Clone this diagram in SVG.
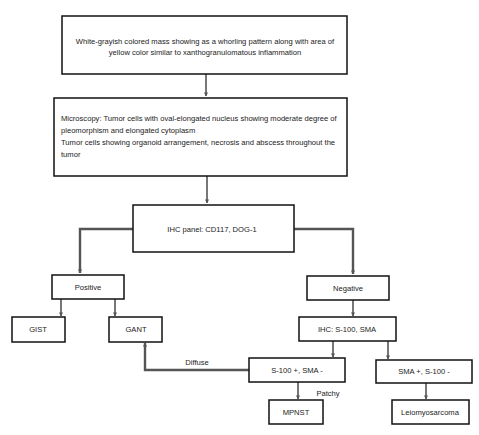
<svg xmlns="http://www.w3.org/2000/svg" width="479" height="435" viewBox="0 0 479 435">
<style>
.box{fill:#fff;stroke:#111;stroke-width:1.5}
.t{font-family:"Liberation Sans",Arial,sans-serif;font-size:7.6px;fill:#222}
.c{text-anchor:middle}
.ln{fill:none;stroke:#555;stroke-width:1.6}
.thick{stroke-width:2.4}
</style>
<defs>
<marker id="ah" viewBox="0 0 10 10" refX="9" refY="5" markerWidth="4" markerHeight="4" orient="auto" markerUnits="userSpaceOnUse">
<path d="M0,0 L10,5 L0,10 z" fill="#555"/>
</marker>
</defs>
<rect width="479" height="435" fill="#fff"/>
<g id="connectors">
<path class="ln" d="M206,74 V96" marker-end="url(#ah)"/>
<path class="ln" d="M207,176 V203" marker-end="url(#ah)"/>
<path class="ln thick" d="M133,229 H80 V273" marker-end="url(#ah)"/>
<path class="ln thick" d="M294,229 H353 V274" marker-end="url(#ah)"/>
<path class="ln" d="M61,299 V316" marker-end="url(#ah)"/>
<path class="ln" d="M115,299 V316" marker-end="url(#ah)"/>
<path class="ln" d="M353,300 V316" marker-end="url(#ah)"/>
<path class="ln" d="M333,341 V357" marker-end="url(#ah)"/>
<path class="ln" d="M388,341 V359" marker-end="url(#ah)"/>
<path class="ln thick" d="M249,370 H145 V343" marker-end="url(#ah)"/>
<path class="ln" d="M298,382 V399" marker-end="url(#ah)"/>
<path class="ln" d="M426,383 V399" marker-end="url(#ah)"/>
<text class="t c" x="197" y="365">Diffuse</text>
<text class="t c" x="328" y="396">Patchy</text>
</g>
<g id="n1">
<rect class="box" x="62" y="16" width="285" height="58"/>
<text class="t c" x="205" y="44">White-grayish colored mass showing as a whorling pattern along with area of</text>
<text class="t c" x="205" y="55">yellow color similar to xanthogranulomatous inflammation</text>
</g>
<g id="n2">
<rect class="box" x="54" y="98" width="293" height="78"/>
<text class="t" x="61" y="121">Microscopy: Tumor cells with oval-elongated nucleus showing moderate degree of</text>
<text class="t" x="61" y="133">pleomorphism and elongated cytoplasm</text>
<text class="t" x="61" y="145">Tumor cells showing organoid arrangement, necrosis and abscess throughout the</text>
<text class="t" x="61" y="157">tumor</text>
</g>
<g id="n3">
<rect class="box" x="133" y="205" width="161" height="47"/>
<text class="t c" x="212" y="232">IHC panel: CD117, DOG-1</text>
</g>
<g id="n4">
<rect class="box" x="52" y="275" width="72" height="24"/>
<text class="t c" x="88" y="290">Positive</text>
</g>
<g id="n5">
<rect class="box" x="307" y="276" width="82" height="24"/>
<text class="t c" x="348" y="291">Negative</text>
</g>
<g id="n6">
<rect class="box" x="12" y="317" width="53" height="25"/>
<text class="t c" x="38" y="332">GIST</text>
</g>
<g id="n7">
<rect class="box" x="109" y="317" width="53" height="25"/>
<text class="t c" x="136" y="332">GANT</text>
</g>
<g id="n8">
<rect class="box" x="299" y="317" width="97" height="24"/>
<text class="t c" x="347" y="332">IHC:  S-100, SMA</text>
</g>
<g id="n9">
<rect class="box" x="249" y="358" width="96" height="24"/>
<text class="t c" x="297" y="373">S-100 +, SMA -</text>
</g>
<g id="n10">
<rect class="box" x="376" y="360" width="96" height="23"/>
<text class="t c" x="424" y="374">SMA +, S-100 -</text>
</g>
<g id="n11">
<rect class="box" x="269" y="400" width="54" height="24"/>
<text class="t c" x="296" y="415">MPNST</text>
</g>
<g id="n12">
<rect class="box" x="392" y="400" width="77" height="24"/>
<text class="t c" x="430" y="415">Leiomyosarcoma</text>
</g>
</svg>
